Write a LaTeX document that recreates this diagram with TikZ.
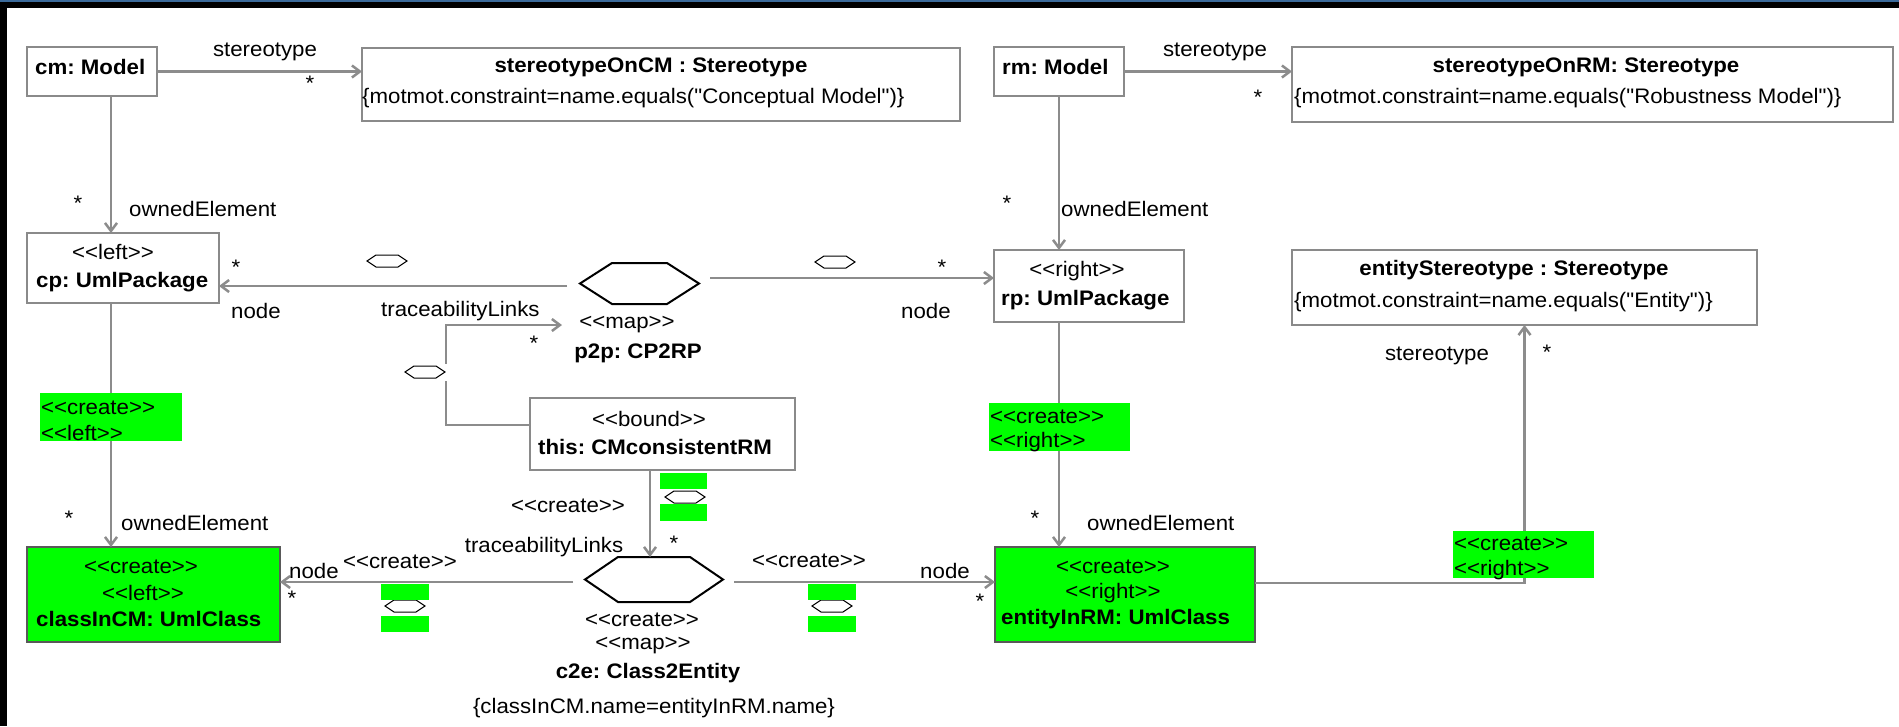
\documentclass[tikz,border=0pt]{standalone}
\usepackage{fontspec}
\setmainfont{Liberation Sans}[FakeStretch=1.06,Ligatures=TeXOff]
\usetikzlibrary{arrows.meta,calc}
\definecolor{lg}{HTML}{8C8C8C}
\definecolor{bx}{HTML}{8A8A8A}
\definecolor{gr}{HTML}{00FF00}
\definecolor{topblue}{HTML}{3B6A9A}
\frenchspacing
\newcommand\hexof[2]{\draw[hexline] (#1.west) -- ([xshift=#2]#1.north west) -- ([xshift=-#2]#1.north east) -- (#1.east) -- ([xshift=-#2]#1.south east) -- ([xshift=#2]#1.south west) -- cycle;}
\begin{document}
\begin{tikzpicture}[x=1pt,y=-1pt, font=\fontsize{21}{25}\selectfont\frenchspacing,
 box/.style={draw=bx, line width=2pt, anchor=north west, inner sep=0pt, outer sep=0pt},
 gbox/.style={box, fill=gr, draw=gray!70!black},
 glab/.style={fill=gr, anchor=north west, inner sep=0pt, outer sep=0pt},
 conn/.style={draw=lg, line width=2.5pt},
 arr/.style={conn, -{Straight Barb[length=8pt,width=12pt]}},
 txt/.style={inner sep=0pt, text=black},
 bf/.style={txt, font=\fontsize{21}{25}\selectfont\frenchspacing\bfseries},
 hexnode/.style={inner sep=0pt, outer sep=0pt, draw=none},
 hexline/.style={draw=black, line width=2pt, line join=miter},
 minihex/.pic={\draw[black, line width=1pt, fill=white] (-20,0)--(-11,-6)--(11,-6)--(20,0)--(11,6)--(-11,6)--cycle;},
]
\useasboundingbox (0,0) rectangle (1899,726);
\fill[white] (0,0) rectangle (1899,726);
\fill[black] (0,0) rectangle (7,726);
\fill[black] (0,0) rectangle (1899,8);
\fill[topblue] (0,0) rectangle (1899,1.5);

% boxes
\node[box, minimum width=130pt, minimum height=49pt] (cm) at (27,47) {};
\node[box, minimum width=598pt, minimum height=73pt] (sOnCM) at (362,48) {};
\node[box, minimum width=130pt, minimum height=49pt] (rm) at (994,47) {};
\node[box, minimum width=601pt, minimum height=75pt] (sOnRM) at (1292,47) {};
\node[box, minimum width=192pt, minimum height=70pt] (cp) at (27,233) {};
\node[box, minimum width=190pt, minimum height=72pt] (rp) at (994,250) {};
\node[box, minimum width=465pt, minimum height=75pt] (eSt) at (1292,250) {};
\node[box, minimum width=265pt, minimum height=72pt] (this) at (530,398) {};
\node[gbox, minimum width=253pt, minimum height=95pt] (cls) at (27,547) {};
\node[gbox, minimum width=260pt, minimum height=95pt] (ent) at (995,547) {};

% hexagons
\node[hexnode, minimum width=119pt, minimum height=41pt] (p2p) at (639.5,283.5) {};
\node[hexnode, minimum width=138pt, minimum height=45pt] (c2e) at (654,579.5) {};
\hexof{p2p}{32}
\hexof{c2e}{33}

% connectors
\coordinate (xL) at (111,0);
\draw[arr] (cm.east) -- (cm.east -| sOnCM.west);
\draw[arr] (rm.east) -- (rm.east -| sOnRM.west);
\draw[arr] (cm.south -| xL) -- (cp.north -| xL);
\draw[arr] (cp.south -| xL) -- (cls.north -| xL);
\draw[arr] (rm.south) -- (rm.south |- rp.north);
\draw[arr] (rm.south |- rp.south) -- (rm.south |- ent.north);
\coordinate (p2pL) at ($(p2p.west)+(-13,2.5)$);
\draw[arr] (p2pL) -- (p2pL -| cp.east);
\coordinate (p2pR) at ($(p2p.east)+(11,-5.5)$);
\draw[arr] (p2pR) -- (p2pR -| rp.west);
\coordinate (thisL) at ($(this.north west)+(0,27)$);
\coordinate (mapIn) at (562,325);
\draw[arr] (thisL) -| ([xshift=-116pt]mapIn) -- (mapIn);
\fill[white] (442,364) rectangle (450,381);
\coordinate (thisB) at ($(this.south west)+(120,0)$);
\draw[arr] (thisB) -- (thisB |- c2e.north);
\coordinate (c2eL) at ($(c2e.west)+(-12,2.5)$);
\draw[arr] (c2eL) -- (c2eL -| cls.east);
\coordinate (c2eR) at ($(c2e.east)+(11,2.5)$);
\draw[arr] (c2eR) -- (c2eR -| ent.west);
\coordinate (entR) at ($(ent.north east)+(0,36)$);
\draw[arr] (entR) -| (eSt.south);

% mini hexagons
\pic at (387,261) {minihex};
\pic at (835,262) {minihex};
\pic at (425,372) {minihex};
\pic at (685,497) {minihex};
\pic at (405,606) {minihex};
\pic at (832,606) {minihex};

% green labels
\node[glab, minimum width=142pt, minimum height=48pt] (gl1) at (40,393) {};
\node[glab, minimum width=141pt, minimum height=48pt] (gl2) at (989,403) {};
\node[glab, minimum width=141pt, minimum height=47pt] (gl3) at (1453,531) {};
\node[glab, minimum width=47pt, minimum height=16pt] (gs1a) at (660,473) {};
\node[glab, minimum width=47pt, minimum height=17pt] (gs1b) at (660,504) {};
\node[glab, minimum width=48pt, minimum height=16pt] (gs2a) at (381,584) {};
\node[glab, minimum width=48pt, minimum height=16pt] (gs2b) at (381,616) {};
\node[glab, minimum width=48pt, minimum height=16pt] (gs3a) at (808,584) {};
\node[glab, minimum width=48pt, minimum height=16pt] (gs3b) at (808,616) {};

% texts in boxes
\node[bf, anchor=west] (t1) at (35,67) {cm: Model};
\node[bf] (t2) at (651,67) {stereotypeOnCM : Stereotype};
\node[txt, anchor=west] (t3) at (362,98) {\{motmot.constraint=name.equals("Conceptual Model")\}};
\node[bf, anchor=west] (t4) at (1002,67) {rm: Model};
\node[bf] (t5) at (1586,67) {stereotypeOnRM: Stereotype};
\node[txt, anchor=west] (t6) at (1294,98) {\{motmot.constraint=name.equals("Robustness Model")\}};
\node[txt] (t7) at (113,252) {<<left>>};
\node[bf, anchor=west] (t8) at (36,282) {cp: UmlPackage};
\node[txt] (t9) at (1077,271) {<<right>>};
\node[bf, anchor=west] (t10) at (1001,300) {rp: UmlPackage};
\node[bf] (t11) at (1514,270) {entityStereotype : Stereotype};
\node[txt, anchor=west] (t12) at (1294,302) {\{motmot.constraint=name.equals("Entity")\}};
\node[txt] (t13) at (649,419) {<<bound>>};
\node[bf, anchor=west] (t14) at (538,447) {this: CMconsistentRM};
\node[txt] (t15) at (141,567) {<<create>>};
\node[txt] (t16) at (143,593) {<<left>>};
\node[bf, anchor=west] (t17) at (36,619) {classInCM: UmlClass};
\node[txt] (t18) at (1113,567) {<<create>>};
\node[txt] (t19) at (1113,593) {<<right>>};
\node[bf, anchor=west] (t20) at (1001,619) {entityInRM: UmlClass};

% hexagon labels
\node[txt] (t21) at (627,325) {<<map>>};
\node[bf] (t22) at (638,353) {p2p: CP2RP};
\node[txt] (t23) at (642,620) {<<create>>};
\node[txt] (t24) at (643,646) {<<map>>};
\node[bf] (t25) at (648,673) {c2e: Class2Entity};
\node[txt] (t26) at (654,708) {\{classInCM.name=entityInRM.name\}};

% green label texts
\node[txt, anchor=west] (g1a) at (41,408) {<<create>>};
\node[txt, anchor=west] (g1b) at (41,433) {<<left>>};
\node[txt, anchor=west] (g2a) at (990,417) {<<create>>};
\node[txt, anchor=west] (g2b) at (990,442) {<<right>>};
\node[txt, anchor=west] (g3a) at (1454,544) {<<create>>};
\node[txt, anchor=west] (g3b) at (1454,570) {<<right>>};

% connector labels
\node[txt] (l1) at (265,52) {stereotype};
\node[txt] (l2) at (310,83) {*};
\node[txt] (l3) at (1215,52) {stereotype};
\node[txt] (l4) at (1258,97) {*};
\node[txt] (l5) at (78,203) {*};
\node[txt, anchor=west] (l6) at (129,209) {ownedElement};
\node[txt] (l7) at (1007,203) {*};
\node[txt, anchor=west] (l8) at (1061,209) {ownedElement};
\node[txt] (l9) at (236,267) {*};
\node[txt, anchor=west] (l10) at (231,311) {node};
\node[txt, anchor=west] (l11) at (381,311) {traceabilityLinks};
\node[txt] (l12) at (942,267) {*};
\node[txt, anchor=west] (l13) at (901,311) {node};
\node[txt] (l14) at (534,343) {*};
\node[txt] (l15) at (568,506) {<<create>>};
\node[txt] (l16) at (674,543) {*};
\node[txt] (l17) at (544,547) {traceabilityLinks};
\node[txt] (l18) at (400,562) {<<create>>};
\node[txt, anchor=west] (l19) at (289,571) {node};
\node[txt] (l20) at (292,598) {*};
\node[txt] (l21) at (809,561) {<<create>>};
\node[txt] (l22) at (945,571) {node};
\node[txt] (l23) at (980,601) {*};
\node[txt] (l24) at (69,518) {*};
\node[txt, anchor=west] (l25) at (121,523) {ownedElement};
\node[txt] (l26) at (1035,518) {*};
\node[txt, anchor=west] (l27) at (1087,523) {ownedElement};
\node[txt] (l28) at (1437,356) {stereotype};
\node[txt] (l29) at (1547,352) {*};
\end{tikzpicture}
\end{document}
